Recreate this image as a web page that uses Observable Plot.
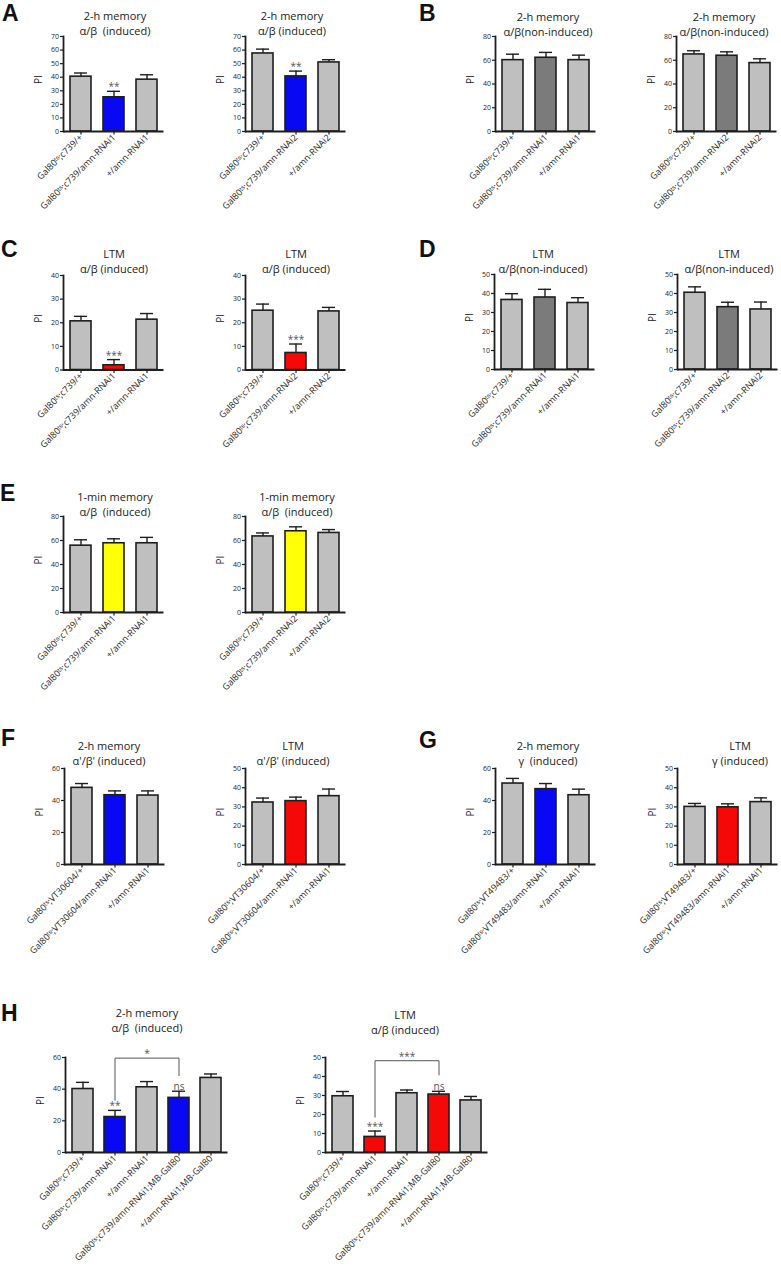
<!DOCTYPE html>
<html>
<head>
<meta charset="utf-8">
<script src="https://cdn.jsdelivr.net/npm/d3@7"></script>
<script src="https://cdn.jsdelivr.net/npm/@observablehq/plot@0.6"></script>
<style>
  body { margin: 0; background: #fff; }
  #fig { position: relative; width: 781px; height: 1280px; font-family: "Open Sans", sans-serif; color: #222; overflow: hidden; }
  .letter { position: absolute; font-family: "Liberation Sans", Arial, sans-serif; font-weight: bold; font-size: 23px; line-height: 23px; color: #111; }
  .title { position: absolute; font-size: 11px; line-height: 14.5px; text-align: center; transform: translateX(-50%); white-space: pre; color: #222; }
</style>
</head>
<body>
<div id="fig"></div>
<script>
// ---------------- DATA ----------------
const labelsC739_1 = ["Gal80ᵗˢ;c739/+", "Gal80ᵗˢ;c739/amn-RNAi1", "+/amn-RNAi1"];
const labelsC739_2 = ["Gal80ᵗˢ;c739/+", "Gal80ᵗˢ;c739/amn-RNAi2", "+/amn-RNAi2"];
const labelsVT30604 = ["Gal80ᵗˢ;VT30604/+", "Gal80ᵗˢ;VT30604/amn-RNAi1", "+/amn-RNAi1"];
const labelsVT49483 = ["Gal80ᵗˢ;VT49483/+", "Gal80ᵗˢ;VT49483/amn-RNAi1", "+/amn-RNAi1"];
const labelsH = ["Gal80ᵗˢ;c739/+", "Gal80ᵗˢ;c739/amn-RNAi1", "+/amn-RNAi1", "Gal80ᵗˢ;c739/amn-RNAi1;MB-Gal80", "+/amn-RNAi1;MB-Gal80"];

const groups3 = ["control", "RNAi", "control"];
const groupsH = ["control", "RNAi", "control", "RNAi", "control"];

const A1_pi = [40.4, 25.2, 38.2], A1_sem = [2.7, 4.4, 3.6], A1_sig = ["", "**", ""];
const A2_pi = [57.5, 40.6, 50.9], A2_sem = [3.2, 3.9, 2.0], A2_sig = ["", "**", ""];
const B1_pi = [60.1, 62.1, 60.1], B1_sem = [5.0, 4.5, 4.2];
const B2_pi = [64.9, 63.8, 57.6], B2_sem = [3.1, 3.3, 3.6];
const C1_pi = [20.6, 2.0, 21.3], C1_sem = [2.1, 2.4, 2.6], C1_sig = ["", "***", ""];
const C2_pi = [25.1, 7.2, 24.8], C2_sem = [2.8, 3.8, 1.7], C2_sig = ["", "***", ""];
const D1_pi = [36.6, 37.9, 35.0], D1_sem = [3.3, 4.3, 2.8];
const D2_pi = [40.4, 32.8, 31.6], D2_sem = [3.1, 2.6, 3.9];
const E1_pi = [55.7, 57.7, 57.7], E1_sem = [4.9, 3.7, 4.9];
const E2_pi = [63.4, 67.7, 66.3], E2_sem = [2.9, 3.7, 2.8];
const F1_pi = [47.9, 43.3, 43.1], F1_sem = [2.7, 2.7, 2.9];
const F2_pi = [32.3, 33.0, 35.6], F2_sem = [2.3, 2.1, 3.7];
const G1_pi = [50.6, 47.1, 43.3], G1_sem = [3.2, 3.5, 3.8];
const G2_pi = [30.0, 29.8, 32.5], G2_sem = [1.8, 1.8, 2.2];
const H1_pi = [40.1, 22.4, 41.2, 34.5, 47.1], H1_sem = [4.2, 4.2, 3.6, 4.2, 2.5], H1_sig = ["", "**", "", "ns", ""];
const H2_pi = [29.6, 8.2, 31.2, 30.5, 27.4], H2_sem = [2.5, 3.1, 1.7, 1.7, 2.1], H2_sig = ["", "***", "", "ns", ""];
// brackets: bar index from/to, top value, left-end value, right-end value, label
const H1_bracket = {from: 1, to: 3, top: 59.6, left: 33.0, right: 48.6, label: "*"};
const H2_bracket = {from: 1, to: 3, top: 48.3, left: 18.6, right: 40.8, label: "***"};

const titles = {
  A1: ["2-h memory", "α/β  (induced)"], A2: ["2-h memory", "α/β (induced)"],
  B1: ["2-h memory", "α/β(non-induced)"], B2: ["2-h memory", "α/β(non-induced)"],
  C1: ["LTM", "α/β (induced)"], C2: ["LTM", "α/β (induced)"],
  D1: ["LTM", "α/β(non-induced)"], D2: ["LTM", "α/β(non-induced)"],
  E1: ["1-min memory", "α/β  (induced)"], E2: ["1-min memory", "α/β  (induced)"],
  F1: ["2-h memory", "α'/β' (induced)"], F2: ["LTM", "α'/β' (induced)"],
  G1: ["2-h memory", "γ  (induced)"], G2: ["LTM", "γ (induced)"],
  H1: ["2-h memory", "α/β  (induced)"], H2: ["LTM", "α/β (induced)"]
};

// ---------------- STYLE ----------------
const GRAY = "#bfbfbf", DARK = "#7b7b7b", BLUE = "#0808f2", RED = "#f40808", YELLOW = "#ffff08";
const INK = "#1e1e1e";

const fig = document.getElementById("fig");

function addLetter(t, x, y) {
  const d = document.createElement("div");
  d.className = "letter"; d.textContent = t;
  d.style.left = x + "px"; d.style.top = y + "px";
  fig.appendChild(d);
}
function addTitle(lines, cx, top) {
  const d = document.createElement("div");
  d.className = "title"; d.textContent = lines.join("\n");
  d.style.left = cx + "px"; d.style.top = top + "px";
  fig.appendChild(d);
}

function addPanel(cfg) {
  const n = cfg.labels.length;
  const step = cfg.step || 33.5;
  const mL = 50, mR = 15, mT = 14, mB = 170;
  const data = cfg.labels.map((label, i) => ({
    label, pi: cfg.pi[i], sem: cfg.sem[i], group: cfg.groups[i], sig: cfg.sig ? cfg.sig[i] : ""
  }));
  const fillOf = d => d.group === "RNAi" ? cfg.hi : cfg.base || GRAY;
  const marks = [
    Plot.ruleX(data, {x: "label", y1: "pi", y2: d => d.pi + d.sem, stroke: INK, strokeWidth: 1.4}),
    Plot.tickY(data, {x: "label", y: d => d.pi + d.sem, stroke: INK, strokeWidth: 1.4, insetLeft: 4, insetRight: 4}),
    Plot.barY(data, {x: "label", y: "pi", fill: fillOf, stroke: INK, strokeWidth: 1.6}),
    Plot.text(data.filter(d => d.sig), {x: "label", y: d => d.pi + d.sem, text: "sig", lineAnchor: "bottom", dy: -1, fontSize: 10, fill: "#555"}),
    Plot.axisY({ticks: d3.range(0, cfg.yMax + 1, cfg.yStep), tickSize: 3, tickPadding: 1.5, fontSize: 7, label: null, stroke: INK, strokeWidth: 1.2}),
    Plot.frame({anchor: "left", stroke: INK, strokeWidth: 1.8}),
    Plot.ruleY([0], {stroke: INK, strokeWidth: 1.8}),
    Plot.axisX({tickSize: 3.5, tickPadding: 1, tickRotate: -45, fontSize: 9, label: null, stroke: INK, strokeWidth: 1.2}),
    Plot.text(["PI"], {frameAnchor: "left", rotate: -90, dx: -25, fontSize: 10, fill: INK})
  ];
  if (cfg.bracket) {
    const b = cfg.bracket;
    const pts = [
      {label: cfg.labels[b.from], y: b.left},
      {label: cfg.labels[b.from], y: b.top},
      {label: cfg.labels[b.to], y: b.top},
      {label: cfg.labels[b.to], y: b.right}
    ];
    marks.push(Plot.line(pts, {x: "label", y: "y", stroke: "#555", strokeWidth: 1, curve: "linear"}));
    marks.push(Plot.text([b], {x: () => cfg.labels[Math.round((b.from + b.to) / 2)], y: "top", text: "label", lineAnchor: "bottom", dy: -1, fontSize: 10, fill: "#555"}));
  }
  const svg = Plot.plot({
    width: mL + n * step + mR,
    height: mT + cfg.h + mB,
    marginLeft: mL, marginRight: mR, marginTop: mT, marginBottom: mB,
    x: {type: "band", domain: cfg.labels, paddingInner: 0.35, paddingOuter: 0.175, align: 0.5},
    y: {domain: [0, cfg.yMax]},
    color: {type: "identity"},
    style: {fontFamily: "Open Sans, sans-serif", fontSize: "7px", color: INK, background: "transparent", overflow: "visible"},
    marks
  });
  svg.style.position = "absolute";
  svg.style.left = (cfg.ax - mL) + "px";
  svg.style.top = (cfg.top - mT) + "px";
  svg.style.maxWidth = "none";
  fig.appendChild(svg);
}

// ---------------- LAYOUT ----------------
addLetter("A", 2, 2); addLetter("B", 419, 2);
addLetter("C", 1, 238); addLetter("D", 419, 238);
addLetter("E", 0, 482);
addLetter("F", 1, 727); addLetter("G", 419, 729);
addLetter("H", 1, 1002);

addTitle(titles.A1, 115, 9);   addTitle(titles.A2, 292, 9);
addTitle(titles.B1, 548, 10);  addTitle(titles.B2, 724, 10);
addTitle(titles.C1, 114, 247); addTitle(titles.C2, 296, 247);
addTitle(titles.D1, 543, 247); addTitle(titles.D2, 729, 247);
addTitle(titles.E1, 115, 490); addTitle(titles.E2, 297, 490);
addTitle(titles.F1, 109, 739); addTitle(titles.F2, 293, 739);
addTitle(titles.G1, 548, 739); addTitle(titles.G2, 740, 739);
addTitle(titles.H1, 147, 1006); addTitle(titles.H2, 405, 1008);

addPanel({labels: labelsC739_1, groups: groups3, pi: A1_pi, sem: A1_sem, sig: A1_sig, hi: BLUE, ax: 63, top: 36, h: 95, yMax: 70, yStep: 10});
addPanel({labels: labelsC739_2, groups: groups3, pi: A2_pi, sem: A2_sem, sig: A2_sig, hi: BLUE, ax: 245, top: 36, h: 95, yMax: 70, yStep: 10});
addPanel({labels: labelsC739_1, groups: groups3, pi: B1_pi, sem: B1_sem, hi: DARK, ax: 495, top: 36, h: 95, yMax: 80, yStep: 20});
addPanel({labels: labelsC739_2, groups: groups3, pi: B2_pi, sem: B2_sem, hi: DARK, ax: 676, top: 36, h: 95, yMax: 80, yStep: 20});
addPanel({labels: labelsC739_1, groups: groups3, pi: C1_pi, sem: C1_sem, sig: C1_sig, hi: RED, ax: 63, top: 274.5, h: 94.5, yMax: 40, yStep: 10});
addPanel({labels: labelsC739_2, groups: groups3, pi: C2_pi, sem: C2_sem, sig: C2_sig, hi: RED, ax: 245, top: 274.5, h: 94.5, yMax: 40, yStep: 10});
addPanel({labels: labelsC739_1, groups: groups3, pi: D1_pi, sem: D1_sem, hi: DARK, ax: 494, top: 274, h: 95, yMax: 50, yStep: 10});
addPanel({labels: labelsC739_2, groups: groups3, pi: D2_pi, sem: D2_sem, hi: DARK, ax: 677, top: 274, h: 95, yMax: 50, yStep: 10});
addPanel({labels: labelsC739_1, groups: groups3, pi: E1_pi, sem: E1_sem, hi: YELLOW, ax: 63, top: 516, h: 96, yMax: 80, yStep: 20});
addPanel({labels: labelsC739_2, groups: groups3, pi: E2_pi, sem: E2_sem, hi: YELLOW, ax: 245, top: 516, h: 96, yMax: 80, yStep: 20});
addPanel({labels: labelsVT30604, groups: groups3, pi: F1_pi, sem: F1_sem, hi: BLUE, ax: 64, top: 768, h: 96, yMax: 60, yStep: 20});
addPanel({labels: labelsVT30604, groups: groups3, pi: F2_pi, sem: F2_sem, hi: RED, ax: 245, top: 768, h: 96, yMax: 50, yStep: 10});
addPanel({labels: labelsVT49483, groups: groups3, pi: G1_pi, sem: G1_sem, hi: BLUE, ax: 495, top: 768, h: 96, yMax: 60, yStep: 20});
addPanel({labels: labelsVT49483, groups: groups3, pi: G2_pi, sem: G2_sem, hi: RED, ax: 677, top: 768, h: 96, yMax: 50, yStep: 10});
addPanel({labels: labelsH, groups: groupsH, pi: H1_pi, sem: H1_sem, sig: H1_sig, hi: BLUE, ax: 65, top: 1057, h: 95, yMax: 60, yStep: 20, step: 32.5, bracket: H1_bracket});
addPanel({labels: labelsH, groups: groupsH, pi: H2_pi, sem: H2_sem, sig: H2_sig, hi: RED, ax: 325, top: 1057, h: 95, yMax: 50, yStep: 10, step: 32.5, bracket: H2_bracket});
</script>
</body>
</html>
